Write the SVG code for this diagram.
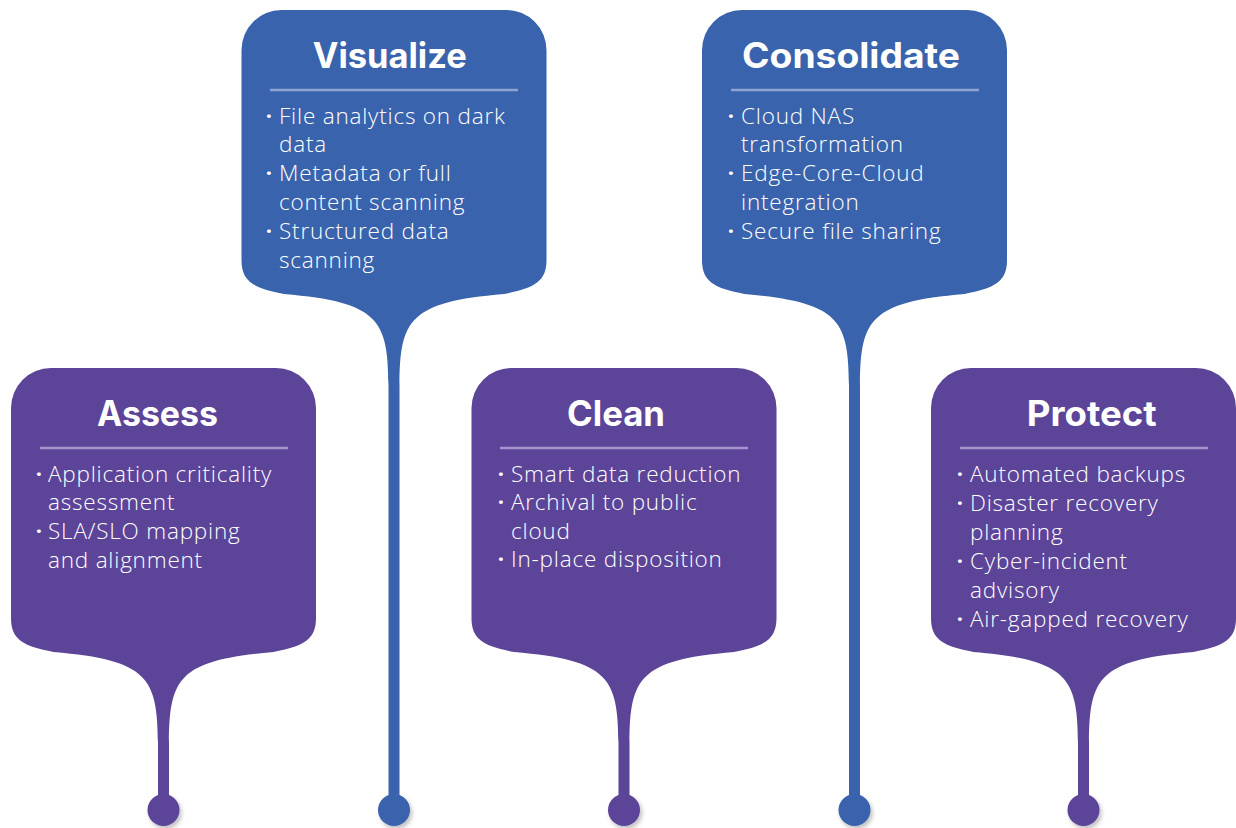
<svg xmlns="http://www.w3.org/2000/svg" xmlns:xlink="http://www.w3.org/1999/xlink" width="1236" height="828" viewBox="0 0 1236 828">
<style>
.p{fill:#5C4499}
.b{fill:#3A63AD}
.t{font-family:Inter,"Liberation Sans",sans-serif;font-weight:700;font-size:35px;fill:#fff;text-anchor:middle}
.x{font-family:"Open Sans","Liberation Sans",sans-serif;font-weight:300;font-size:22.5px;letter-spacing:0.8px;fill:#fff}
.bl{font-family:"Open Sans","Liberation Sans",sans-serif;font-weight:700;font-size:22px;fill:#fff;text-anchor:middle}
.dp{stroke:#A697CF;stroke-width:2.5}
.db{stroke:#8EA5D4;stroke-width:2.5}
</style>
<defs>
<filter id="sh" x="-50%" y="-50%" width="200%" height="200%"><feDropShadow dx="2" dy="3" stdDeviation="2" flood-color="#000" flood-opacity="0.25"/></filter>
<path id="bubP" d="M-152.5,40 A40,40 0 0 1 -112.5,0 H112.5 A40,40 0 0 1 152.5,40 V250 C152.5,272 140,278 110,284 C15,292 6,310 5.5,375 V442 H-5.5 V375 C-6,310 -15,292 -110,284 C-140,278 -152.5,272 -152.5,250 Z"/>
<path id="bubB" d="M-152.5,40 A40,40 0 0 1 -112.5,0 H112.5 A40,40 0 0 1 152.5,40 V250 C152.5,272 140,278 110,284 C15,292 6,310 5.5,375 V800 H-5.5 V375 C-6,310 -15,292 -110,284 C-140,278 -152.5,272 -152.5,250 Z"/>
</defs>
<g id="connectors">
<circle class="p" cx="163.5" cy="810" r="16" filter="url(#sh)"/>
<circle class="b" cx="394" cy="810" r="16" filter="url(#sh)"/>
<circle class="p" cx="624" cy="810" r="16" filter="url(#sh)"/>
<circle class="b" cx="854.5" cy="810" r="16" filter="url(#sh)"/>
<circle class="p" cx="1083.5" cy="810" r="16" filter="url(#sh)"/>
</g>
<g id="assess">
<use xlink:href="#bubP" class="p" transform="translate(163.5,368)"/>
<text class="t" x="157.5" y="426" textLength="121" lengthAdjust="spacingAndGlyphs">Assess</text>
<line class="dp" x1="40" y1="448" x2="288" y2="448"/>
<text class="bl" x="39" y="481.5">·</text>
<text class="x" x="48" y="481.5">Application criticality</text>
<text class="x" x="48" y="510.3">assessment</text>
<text class="bl" x="39" y="539.1">·</text>
<text class="x" x="48" y="539.1">SLA/SLO mapping</text>
<text class="x" x="48" y="567.9">and alignment</text>
</g>
<g id="visualize">
<use xlink:href="#bubB" class="b" transform="translate(394,10)"/>
<text class="t" x="389.7" y="68" textLength="154" lengthAdjust="spacingAndGlyphs">Visualize</text>
<line class="db" x1="270" y1="90" x2="518" y2="90"/>
<text class="bl" x="269" y="123.5">·</text>
<text class="x" x="279" y="123.5">File analytics on dark</text>
<text class="x" x="279" y="152.3">data</text>
<text class="bl" x="269" y="181.1">·</text>
<text class="x" x="279" y="181.1">Metadata or full</text>
<text class="x" x="279" y="209.9">content scanning</text>
<text class="bl" x="269" y="238.7">·</text>
<text class="x" x="279" y="238.7">Structured data</text>
<text class="x" x="279" y="267.5">scanning</text>
</g>
<g id="clean">
<use xlink:href="#bubP" class="p" transform="translate(624,368)"/>
<text class="t" x="616" y="426" textLength="98" lengthAdjust="spacingAndGlyphs">Clean</text>
<line class="dp" x1="500" y1="448" x2="748" y2="448"/>
<text class="bl" x="501" y="481.5">·</text>
<text class="x" x="511" y="481.5">Smart data reduction</text>
<text class="bl" x="501" y="510">·</text>
<text class="x" x="511" y="510">Archival to public</text>
<text class="x" x="511" y="538.5">cloud</text>
<text class="bl" x="501" y="567">·</text>
<text class="x" x="511" y="567">In-place disposition</text>
</g>
<g id="consolidate">
<use xlink:href="#bubB" class="b" transform="translate(854.5,10)"/>
<text class="t" x="851" y="68" textLength="218" lengthAdjust="spacingAndGlyphs">Consolidate</text>
<line class="db" x1="731" y1="90" x2="979" y2="90"/>
<text class="bl" x="731" y="123.5">·</text>
<text class="x" x="741" y="123.5">Cloud NAS</text>
<text class="x" x="741" y="152.3">transformation</text>
<text class="bl" x="731" y="181.1">·</text>
<text class="x" x="741" y="181.1">Edge-Core-Cloud</text>
<text class="x" x="741" y="209.9">integration</text>
<text class="bl" x="731" y="238.7">·</text>
<text class="x" x="741" y="238.7">Secure file sharing</text>
</g>
<g id="protect">
<use xlink:href="#bubP" class="p" transform="translate(1083.5,368)"/>
<text class="t" x="1091.7" y="426" textLength="130" lengthAdjust="spacingAndGlyphs">Protect</text>
<line class="dp" x1="960" y1="448" x2="1208" y2="448"/>
<text class="bl" x="960" y="481.5">·</text>
<text class="x" x="970" y="481.5">Automated backups</text>
<text class="bl" x="960" y="510.5">·</text>
<text class="x" x="970" y="510.5">Disaster recovery</text>
<text class="x" x="970" y="539.5">planning</text>
<text class="bl" x="960" y="568.5">·</text>
<text class="x" x="970" y="568.5">Cyber-incident</text>
<text class="x" x="970" y="597.5">advisory</text>
<text class="bl" x="960" y="626.5">·</text>
<text class="x" x="970" y="626.5">Air-gapped recovery</text>
</g>
</svg>
